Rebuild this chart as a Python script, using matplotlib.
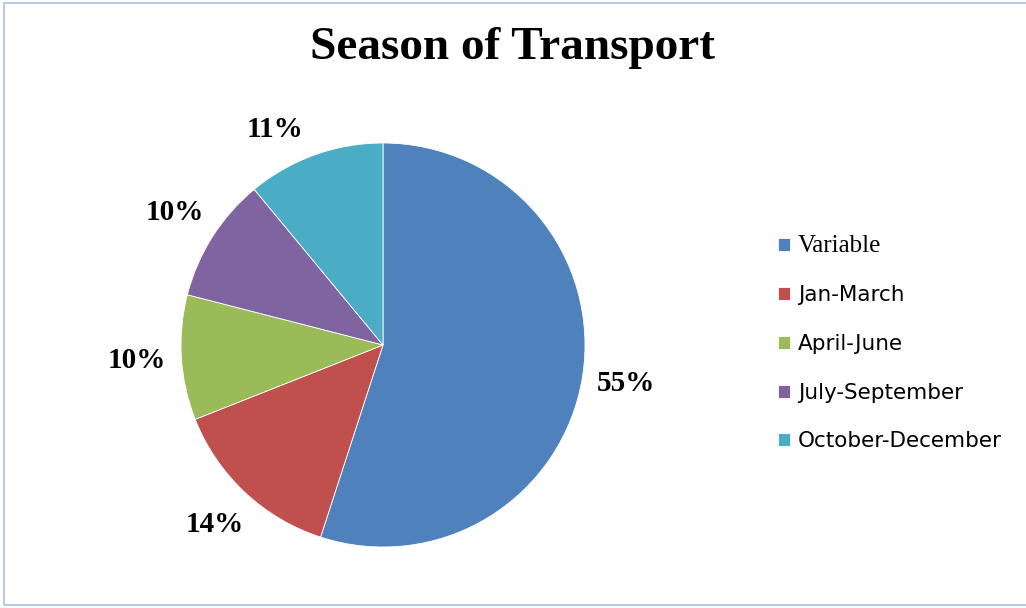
import matplotlib.pyplot as plt
from matplotlib.patches import Rectangle

seasons = ['Variable', 'Jan-March', 'April-June', 'July-September', 'October-December']
shares = [55, 14, 10, 10, 11]
colors = ['#4F81BD', '#C0504D', '#9BBB59', '#8064A2', '#4BACC6']

fig = plt.figure(figsize=(10.26, 6.08), dpi=100)

# pie area, centred at (383, 345) px with a radius of about 202 px
cx, cy, r = 383, 345, 202
ax = fig.add_axes([(cx - r) / 1026, (608 - cy - r) / 608, 2 * r / 1026, 2 * r / 608])
wedges, texts, autotexts = ax.pie(shares, colors=colors, startangle=90, counterclock=False,
                                  autopct='%d%%', pctdistance=1.22,
                                  wedgeprops=dict(edgecolor='white', linewidth=0.6))
for t in autotexts:
    t.set_fontfamily('Liberation Serif')
    t.set_fontweight('bold')
    t.set_fontsize(21)
    t.set_color('black')
# pull the top label a bit towards the left
x, y = autotexts[4].get_position()
autotexts[4].set_position((x - 0.12, y - 0.08))
ax.set_xlim(-1, 1)
ax.set_ylim(-1, 1)
ax.set_aspect('equal')

fig.text(0.5, 1 - 48 / 608, 'Season of Transport', ha='center', va='center',
         fontsize=34, fontweight='bold', family='Liberation Serif')

leg = fig.legend(wedges, seasons, loc='upper left', bbox_to_anchor=(767 / 1026, 1 - 224 / 608),
                 frameon=False, fontsize=15.5, handlelength=0.55, handleheight=0.55,
                 handletextpad=0.4, labelspacing=1.33, borderpad=0)
leg.get_texts()[0].set_fontfamily('Liberation Serif')
leg.get_texts()[0].set_fontsize(18)

# thin frame around the chart area
fig.patches.append(Rectangle((4 / 1026, 3 / 608), 1.2, 1 - 6 / 608, transform=fig.transFigure,
                             fill=False, edgecolor='#A9C0E6', linewidth=1.2))

fig.savefig('out.png', dpi=100)
